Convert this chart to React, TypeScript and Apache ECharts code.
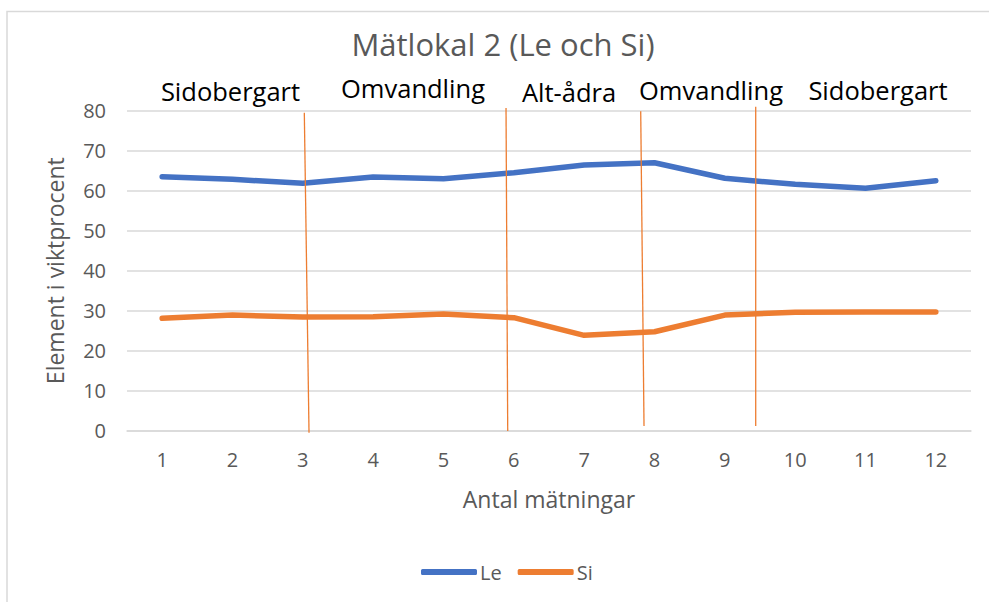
import React, { useEffect, useRef } from "react";
import * as echarts from "echarts";

const categories = ["1", "2", "3", "4", "5", "6", "7", "8", "9", "10", "11", "12"];
const leValues = [63.5, 62.85, 61.85, 63.4, 63.0, 64.5, 66.4, 67.0, 63.1, 61.6, 60.6, 62.5];
const siValues = [28.1, 28.9, 28.4, 28.5, 29.2, 28.25, 23.85, 24.75, 28.9, 29.6, 29.7, 29.7];
const yTicks = { min: 0, max: 80, interval: 10 };
// Hand-drawn divider lines, in chart units: [[xTop, yTop], [xBottom, yBottom]] (x = measurement position)
const dividers = [
  [[3.021, 79.5], [3.088, -0.5]],
  [[5.889, 80.7], [5.913, -0.1]],
  [[7.804, 79.85], [7.851, 1.2]],
  [[9.439, 81.0], [9.439, 1.2]],
];
const sectionLabels = ["Sidobergart", "Omvandling", "Alt-ådra", "Omvandling", "Sidobergart"];
const sectionLabelPos = [
  [230.5, 91],
  [413, 88],
  [569, 92],
  [711, 90],
  [878, 90],
];

const FONT = "'Open Sans', sans-serif";
const GRAY = "#595959";

export default function App() {
  const ref = useRef<HTMLDivElement>(null);
  useEffect(() => {
    document.body.style.margin = "0";
    if (!ref.current) return;
    const chart = echarts.init(ref.current, null, { renderer: "svg" });
    const labelGraphics = sectionLabels.map((t, i) => ({
      type: "text",
      x: sectionLabelPos[i][0],
      y: sectionLabelPos[i][1],
      style: {
        text: t,
        fontFamily: FONT,
        fontSize: 25.5,
        fill: "#000000",
        textAlign: "center",
        textVerticalAlign: "middle",
      },
      silent: true,
    }));
    const borderGraphic = {
      type: "rect",
      shape: { x: 7, y: 11.5, width: 1100, height: 800 },
      style: { fill: "none", stroke: "#d9d9d9", lineWidth: 1.5 },
      silent: true,
      z: -10,
    };
    chart.setOption({
      animation: false,
      backgroundColor: "#ffffff",
      title: {
        text: "Mätlokal 2 (Le och Si)",
        left: 498,
        top: 23,
        textAlign: "center",
        textStyle: { fontFamily: FONT, fontSize: 31, fontWeight: "normal", color: GRAY },
      },
      legend: {
        data: ["Le", "Si"],
        left: 416,
        top: 557,
        icon: "roundRect",
        itemWidth: 56,
        itemHeight: 6,
        itemGap: 16,
        textStyle: { fontFamily: FONT, fontSize: 20, color: GRAY, padding: [0, 0, 0, -2] },
      },
      grid: { left: 127, right: 18, top: 110.7, bottom: 171.3, containLabel: false },
      xAxis: [
        {
          type: "category",
          data: categories,
          boundaryGap: true,
          axisLine: { show: true, lineStyle: { color: "#d9d9d9", width: 1.5 } },
          axisTick: { show: false },
          axisLabel: { fontFamily: FONT, fontSize: 20, color: GRAY, margin: 19 },
          name: "Antal mätningar",
          nameLocation: "middle",
          nameGap: 57,
          nameTextStyle: { fontFamily: FONT, fontSize: 23, color: GRAY },
        },
        {
          type: "value",
          min: 0.5,
          max: 12.5,
          show: false,
        },
      ],
      yAxis: {
        type: "value",
        min: yTicks.min,
        max: yTicks.max,
        interval: yTicks.interval,
        axisLine: { show: false },
        axisTick: { show: false },
        splitLine: { lineStyle: { color: "#d9d9d9", width: 1.5 } },
        axisLabel: { fontFamily: FONT, fontSize: 20, color: GRAY, margin: 21 },
        name: "Element i viktprocent",
        nameLocation: "middle",
        nameGap: 61,
        nameTextStyle: { fontFamily: FONT, fontSize: 23, color: GRAY },
      },
      series: [
        {
          name: "Le",
          type: "line",
          data: leValues,
          symbol: "none",
          color: "#4472C4",
          lineStyle: { width: 5.5, color: "#4472C4", cap: "round", join: "round" },
          z: 3,
        },
        {
          name: "Si",
          type: "line",
          data: siValues,
          symbol: "none",
          color: "#ED7D31",
          lineStyle: { width: 5.5, color: "#ED7D31", cap: "round", join: "round" },
          z: 3,
        },
      ],
      graphic: [borderGraphic, ...labelGraphics],
    });
    const dividerGraphics = dividers.map((d) => {
      const p1 = chart.convertToPixel({ xAxisIndex: 1, yAxisIndex: 0 }, d[0]) as number[];
      const p2 = chart.convertToPixel({ xAxisIndex: 1, yAxisIndex: 0 }, d[1]) as number[];
      return {
        type: "line",
        shape: { x1: p1[0], y1: p1[1], x2: p2[0], y2: p2[1] },
        style: { stroke: "#ED7D31", lineWidth: 1.3 },
        silent: true,
        z: 10,
      };
    });
    chart.setOption({ graphic: [borderGraphic, ...labelGraphics, ...dividerGraphics] }, { replaceMerge: ["graphic"] });
    return () => chart.dispose();
  }, []);
  return <div ref={ref} style={{ width: 989, height: 602 }} />;
}
